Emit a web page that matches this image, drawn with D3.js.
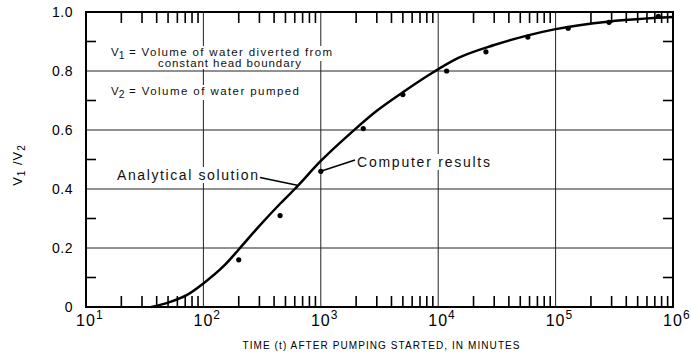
<!DOCTYPE html>
<html>
<head>
<meta charset="utf-8">
<script src="https://cdn.jsdelivr.net/npm/d3@7"></script>
<style>
  body { margin: 0; background: #fff; }
  svg { font-family: "Liberation Sans", Arial, sans-serif; }
</style>
</head>
<body>
<svg width="691" height="356"></svg>
<script>
// x axis decades (exponents of ten) and y ticks
const decades = [1, 2, 3, 4, 5, 6];
const yTicks = [0, 0.2, 0.4, 0.6, 0.8, 1.0];
const yMinor = [0.1, 0.3, 0.5, 0.7, 0.9];
const minorSteps = [2, 3, 4, 5, 6, 7, 8, 9];

// analytical solution
const curveT = [36, 50, 72, 100, 150, 200, 300, 450, 600, 1000, 1900, 3000, 5000, 9000, 15000, 30000, 57000, 100000, 290000, 1000000];
const curveV = [0, 0.015, 0.04, 0.08, 0.14, 0.195, 0.275, 0.35, 0.40, 0.495, 0.598, 0.665, 0.728, 0.795, 0.845, 0.888, 0.92, 0.942, 0.968, 0.983];

// computer results (dots)
const resultT = [200, 450, 1000, 2300, 5000, 11800, 25500, 58000, 128000, 285000, 750000];
const resultV = [0.16, 0.31, 0.46, 0.605, 0.72, 0.80, 0.865, 0.915, 0.945, 0.965, 0.985];

const svg = d3.select("svg");

const pLeft = 86, pRight = 673, pTop = 12, pBottom = 307;

const x = d3.scaleLog().domain([10, 1e6]).range([pLeft, pRight]);
const y = d3.scaleLinear().domain([0, 1]).range([pBottom, pTop]);

// minor tick values 2..9 in each decade
const minorT = [];
decades.slice(0, -1).forEach(e => {
    minorSteps.forEach(k => minorT.push(k * Math.pow(10, e)));
});

// gridlines
svg.append("g")
    .selectAll("line")
    .data(decades.slice(1, -1))
    .enter()
    .append("line")
    .attr("x1", d => x(Math.pow(10, d)))
    .attr("x2", d => x(Math.pow(10, d)))
    .attr("y1", pTop)
    .attr("y2", pBottom)
    .attr("stroke", "#222")
    .attr("stroke-width", 1);

svg.append("g")
    .selectAll("line")
    .data(yTicks.slice(1, -1))
    .enter()
    .append("line")
    .attr("x1", pLeft)
    .attr("x2", pRight)
    .attr("y1", d => y(d))
    .attr("y2", d => y(d))
    .attr("stroke", "#222")
    .attr("stroke-width", 1);

// frame
svg.append("rect")
    .attr("x", pLeft)
    .attr("y", pTop)
    .attr("width", pRight - pLeft)
    .attr("height", pBottom - pTop)
    .attr("fill", "none")
    .attr("stroke", "#000")
    .attr("stroke-width", 2);

// minor ticks, bottom (pointing up) and top (pointing down)
svg.append("g")
    .selectAll("line")
    .data(minorT)
    .enter()
    .append("line")
    .attr("x1", d => x(d))
    .attr("x2", d => x(d))
    .attr("y1", pBottom)
    .attr("y2", pBottom - 11)
    .style("stroke", "#000")
    .style("stroke-width", "1.6px");
svg.append("g")
    .selectAll("line")
    .data(minorT)
    .enter()
    .append("line")
    .attr("x1", d => x(d))
    .attr("x2", d => x(d))
    .attr("y1", pTop)
    .attr("y2", pTop + 11)
    .style("stroke", "#000")
    .style("stroke-width", "1.6px");

// y minor ticks on both sides, pointing inward
svg.append("g")
    .selectAll("line")
    .data(yMinor)
    .enter()
    .append("line")
    .attr("x1", pLeft)
    .attr("x2", pLeft + 10)
    .attr("y1", d => y(d))
    .attr("y2", d => y(d))
    .style("stroke", "#000")
    .style("stroke-width", "1.6px");
svg.append("g")
    .selectAll("line")
    .data(yMinor)
    .enter()
    .append("line")
    .attr("x1", pRight - 10)
    .attr("x2", pRight)
    .attr("y1", d => y(d))
    .attr("y2", d => y(d))
    .style("stroke", "#000")
    .style("stroke-width", "1.6px");

// y tick labels
svg.append("g")
    .selectAll("text")
    .data(yTicks)
    .enter()
    .append("text")
    .attr("x", 73)
    .attr("y", d => y(d) + 5)
    .attr("text-anchor", "end")
    .attr("font-size", 14)
    .attr("letter-spacing", 0.5)
    .text(d => d === 0 ? "0" : d.toFixed(1));

// x tick labels: 10 with superscript exponent
decades.forEach(e => {
    const gx = x(Math.pow(10, e));
    const t = svg.append("text")
        .attr("y", 326)
        .attr("font-size", 16);
    t.append("tspan").attr("letter-spacing", 1).text("10");
    t.append("tspan").attr("dy", -7).attr("font-size", 12).text(e);
    const w = t.select("tspan").node().getComputedTextLength();
    t.attr("x", gx - w / 2);
});

// axis titles
svg.append("text")
    .attr("x", 381)
    .attr("y", 349)
    .attr("text-anchor", "middle")
    .attr("font-size", 10)
    .attr("textLength", 277)
    .text("TIME (t) AFTER PUMPING STARTED, IN MINUTES");

const yt = svg.append("text")
    .attr("transform", "translate(22, 165) rotate(-90)")
    .attr("text-anchor", "middle")
    .attr("font-size", 13)
    .attr("letter-spacing", 1);
yt.append("tspan").text("V");
yt.append("tspan").attr("dy", 3).attr("font-size", 10).text("1");
yt.append("tspan").attr("dy", -3).text(" /V");
yt.append("tspan").attr("dy", 3).attr("font-size", 10).text("2");

// annotation text with white backing; w = width of the whole line
function label(xp, yp, size, parts, w) {
    const g = svg.append("g");
    const bg = g.append("rect").attr("fill", "#fff");
    const t = g.append("text")
        .attr("x", xp)
        .attr("y", yp)
        .attr("font-size", size)
        .attr("fill", "#111");
    parts.forEach(p => {
        const s = t.append("tspan").text(p.s);
        if (p.sub) s.attr("dy", 3).attr("font-size", size * 0.9);
        if (p.up) s.attr("dy", -3);
    });
    if (w) {
        const last = t.selectAll("tspan").nodes().pop();
        const other = t.node().getComputedTextLength() - last.getComputedTextLength();
        d3.select(last).attr("textLength", w - other).attr("lengthAdjust", "spacing");
    }
    const b = t.node().getBBox();
    bg.attr("x", b.x - 1).attr("y", b.y).attr("width", b.width + 2).attr("height", b.height);
}

label(111, 56, 11.5, [{ s: "V" }, { s: "1", sub: true }, { s: " = Volume of water diverted from", up: true }], 221);
label(158, 67, 11.5, [{ s: "constant head boundary" }], 143);
label(111, 95, 11.5, [{ s: "V" }, { s: "2", sub: true }, { s: " = Volume of water pumped", up: true }], 188);
label(117, 180, 14, [{ s: "Analytical  solution" }], 141);
label(357, 167, 14, [{ s: "Computer results" }], 133);

// leader lines
svg.append("line")
    .attr("x1", 260).attr("y1", 177.5)
    .attr("x2", x(630)).attr("y2", y(0.413))
    .attr("stroke", "#000").attr("stroke-width", 1.5);
svg.append("line")
    .attr("x1", 355).attr("y1", 160)
    .attr("x2", x(resultT[2])).attr("y2", y(resultV[2]))
    .attr("stroke", "#000").attr("stroke-width", 1.5);

// analytical curve
const line = d3.line()
    .x(d => x(d[0]))
    .y(d => y(d[1]))
    .curve(d3.curveMonotoneX);
svg.append("path")
    .datum(d3.zip(curveT, curveV))
    .attr("d", line)
    .attr("fill", "none")
    .attr("stroke", "#000")
    .attr("stroke-width", 2.5);

// computer results
svg.append("g")
    .selectAll("circle")
    .data(d3.zip(resultT, resultV))
    .enter()
    .append("circle")
    .attr("cx", d => x(d[0]))
    .attr("cy", d => y(d[1]))
    .attr("r", 2.6)
    .attr("fill", "#000");
</script>
</body>
</html>
